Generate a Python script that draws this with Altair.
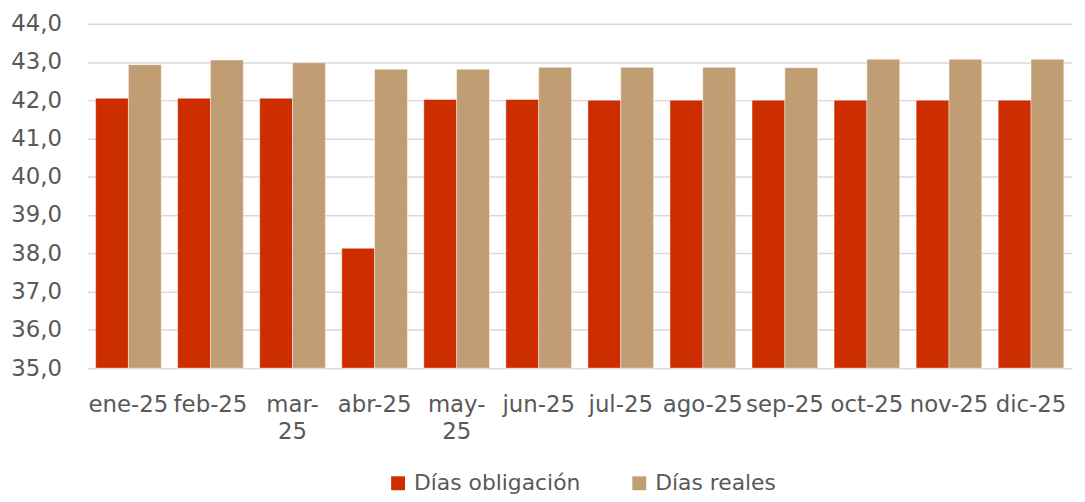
import altair as alt
import pandas as pd

months = ["ene-25", "feb-25", "mar-25", "abr-25", "may-25", "jun-25",
          "jul-25", "ago-25", "sep-25", "oct-25", "nov-25", "dic-25"]
dias_obligacion = [42.05, 42.05, 42.05, 38.13, 42.02, 42.02,
                   42.0, 42.0, 42.0, 42.0, 42.0, 42.0]
dias_reales = [42.93, 43.05, 42.98, 42.81, 42.81, 42.86,
               42.86, 42.86, 42.85, 43.07, 43.07, 43.07]
series = ["Días obligación", "Días reales"]
colors = ["#CC2E00", "#C19D74"]
y_ticks = [35, 36, 37, 38, 39, 40, 41, 42, 43, 44]

rows = []
for i, m in enumerate(months):
    rows.append({"mes": m, "serie": series[0], "valor": dias_obligacion[i]})
    rows.append({"mes": m, "serie": series[1], "valor": dias_reales[i]})
df = pd.DataFrame(rows)

FONT = "DejaVu Sans"
TXT = "#595959"
FS = 23

chart = alt.Chart(df).mark_bar(
    stroke="#ffffff", strokeWidth=0.6, strokeOpacity=0.7
).encode(
    x=alt.X("mes:N", sort=months, title=None,
            scale=alt.Scale(paddingInner=0.2, paddingOuter=0.1),
            axis=alt.Axis(labelAngle=0, ticks=False, domain=True,
                          domainColor="#d9d9d9", domainWidth=1.5,
                          labelFont=FONT, labelFontSize=FS, labelColor=TXT,
                          labelPadding=26, labelLineHeight=27,
                          labelOverlap=False, labelLimit=0,
                          labelExpr="datum.label == 'mar-25' ? ['mar-','25'] : datum.label == 'may-25' ? ['may-','25'] : datum.label")),
    xOffset=alt.XOffset("serie:N", sort=series,
                        scale=alt.Scale(paddingInner=0, paddingOuter=0)),
    y=alt.Y("valor:Q", title=None,
            scale=alt.Scale(domain=[35, 44], zero=False, nice=False),
            axis=alt.Axis(values=y_ticks, format=".1f", ticks=False, domain=False,
                          gridColor="#d9d9d9", gridWidth=1.5,
                          labelFont=FONT, labelFontSize=FS, labelColor=TXT,
                          labelPadding=26,
                          labelExpr="replace(format(datum.value, '.1f'), '.', ',')")),
    y2=alt.datum(35),
    color=alt.Color("serie:N", sort=series,
                    scale=alt.Scale(domain=series, range=colors),
                    legend=alt.Legend(title=None, orient="none", direction="horizontal",
                                      legendX=302, legendY=452,
                                      symbolType="square", symbolSize=196,
                                      symbolStrokeWidth=0,
                                      labelFont=FONT, labelFontSize=22, labelColor=TXT,
                                      labelOffset=5, columnPadding=48, labelLimit=0)),
).properties(
    width=992, height=347,
    autosize=alt.AutoSizeParams(type="none"),
    padding={"left": 80, "top": 14, "right": 5, "bottom": 125},
).configure_view(stroke=None)

chart.save("out.html", embed_options={"renderer": "svg", "actions": False})
